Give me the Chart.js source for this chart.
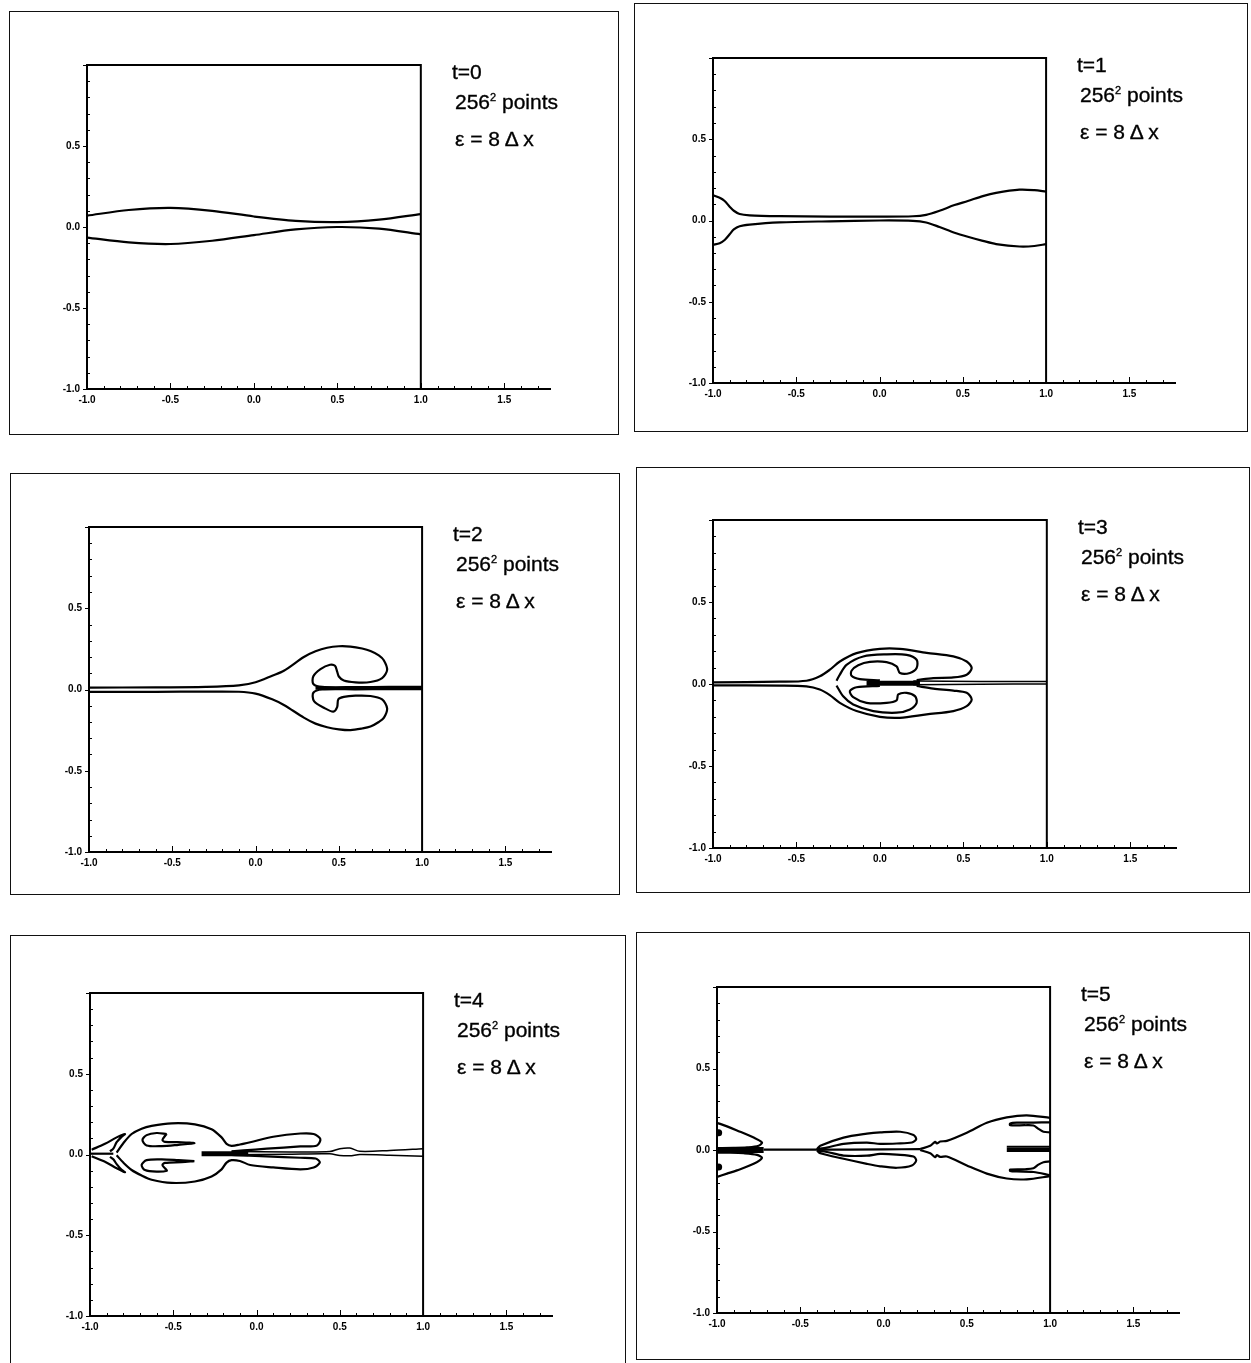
<!DOCTYPE html>
<html>
<head>
<meta charset="utf-8">
<script src="https://cdn.jsdelivr.net/npm/chart.js@4.4.1/dist/chart.umd.min.js"></script>
<style>
   body { margin: 0; background: #fff; }
   #page { position: relative; width: 1251px; height: 1363px; overflow: hidden; background: #fff; }
   .frame { position: absolute; border: 1px solid #111; box-sizing: border-box; }
   canvas { position: absolute; }
   .lbl { position: absolute; font-family: "Liberation Sans", Arial, sans-serif; font-size: 21px; color: #000; line-height: 22px; white-space: nowrap; -webkit-text-stroke: 0.35px #000; }
   .lbl sup { font-size: 11px; vertical-align: 8px; line-height: 0; }
</style>
</head>
<body>
<div id="page"></div>
<script>
/*******************************************************
 * /                 axes + tick labels                 * /
 ********************************************************/
const xTicks = [-1, -0.5, 0, 0.5, 1, 1.5];
const yTicks = [-1, -0.5, 0, 0.5];
const xMin = -1, xMax = 1.78, yMin = -1, yMax = 1;
const labelLines = ["256<sup>2</sup> points", "\u03b5 = 8 \u0394 x"];

/*******************************************************
 * /            contour lines, one array per curve      * /
 ********************************************************/
// t=0
const t0Upper = [[-1,0.07],[-0.75,0.105],[-0.5,0.118],[-0.25,0.1],[0,0.065],[0.25,0.038],[0.5,0.03],[0.75,0.045],[1,0.08]];
const t0Lower = [[-1,-0.065],[-0.75,-0.095],[-0.5,-0.105],[-0.25,-0.085],[0,-0.05],[0.25,-0.015],[0.5,0.0],[0.75,-0.01],[1,-0.045]];

// t=1
const t1Upper = [[-1,0.155],[-0.96,0.14],[-0.93,0.12],[-0.9,0.085],[-0.875,0.06],[-0.84,0.04],[-0.78,0.032],[-0.6,0.027],[-0.3,0.024],[0,0.024],[0.2,0.026],[0.28,0.035],[0.36,0.06],[0.45,0.095],[0.53,0.12],[0.62,0.15],[0.7,0.17],[0.84,0.19],[0.93,0.187],[1,0.178]];
const t1Lower = [[-1,-0.15],[-0.96,-0.14],[-0.93,-0.12],[-0.9,-0.085],[-0.875,-0.055],[-0.84,-0.035],[-0.78,-0.025],[-0.6,-0.012],[-0.3,-0.005],[0,0],[0.2,-0.002],[0.28,-0.012],[0.36,-0.04],[0.45,-0.075],[0.53,-0.1],[0.62,-0.125],[0.7,-0.145],[0.84,-0.16],[0.93,-0.157],[1,-0.145]];

// t=2
const t2Upper = [[-1,0.012],[-0.6,0.013],[-0.3,0.016],[-0.1,0.025],[0.0,0.045],[0.1,0.085],[0.17,0.115],[0.29,0.2],[0.36,0.235],[0.43,0.257],[0.5,0.266],[0.57,0.264],[0.64,0.252],[0.69,0.237],[0.74,0.21],[0.77,0.18],[0.79,0.12],[0.76,0.07],[0.69,0.046],[0.6,0.044],[0.53,0.055],[0.5,0.08],[0.49,0.11],[0.477,0.146],[0.447,0.152],[0.39,0.125],[0.347,0.081],[0.347,0.034],[0.4,0.016],[0.6,0.015],[0.8,0.016],[1.0,0.016]];
const t2Lower = [[-1,-0.014],[-0.6,-0.014],[-0.3,-0.013],[-0.1,-0.014],[0.0,-0.025],[0.1,-0.06],[0.17,-0.095],[0.29,-0.173],[0.36,-0.21],[0.43,-0.232],[0.5,-0.245],[0.57,-0.25],[0.64,-0.24],[0.69,-0.228],[0.74,-0.2],[0.77,-0.175],[0.79,-0.116],[0.76,-0.061],[0.69,-0.04],[0.6,-0.038],[0.53,-0.045],[0.497,-0.06],[0.49,-0.108],[0.467,-0.136],[0.417,-0.116],[0.351,-0.071],[0.347,-0.02],[0.4,0.0],[0.6,0.001],[0.8,0.002],[1.0,0.002]];
const t2Core = [[0.36,0.008],[0.85,0.008]];

// t=3
const t3OuterUp = [[-1,0.01],[-0.6,0.014],[-0.44,0.02],[-0.36,0.047],[-0.3,0.087],[-0.24,0.137],[-0.14,0.188],[0,0.214],[0.12,0.214],[0.28,0.19],[0.44,0.168],[0.52,0.137],[0.55,0.097],[0.52,0.057],[0.44,0.04],[0.32,0.036],[0.22,0.024]];
const t3OuterLow = [[-1,-0.008],[-0.6,-0.01],[-0.44,-0.015],[-0.36,-0.034],[-0.3,-0.068],[-0.24,-0.115],[-0.14,-0.165],[0,-0.2],[0.12,-0.206],[0.28,-0.185],[0.44,-0.165],[0.52,-0.135],[0.55,-0.094],[0.52,-0.054],[0.44,-0.04],[0.32,-0.028],[0.22,-0.012]];
const t3CUp = [[-0.26,0.02],[-0.24,0.057],[-0.2,0.117],[-0.1,0.168],[0.04,0.181],[0.16,0.178],[0.22,0.148],[0.22,0.097],[0.18,0.067],[0.12,0.067],[0.1,0.107],[0.04,0.133],[-0.06,0.135],[-0.13,0.115],[-0.17,0.081],[-0.17,0.05],[-0.12,0.03],[0.0,0.022]];
const t3CLow = [[-0.26,-0.01],[-0.22,-0.075],[-0.16,-0.125],[-0.04,-0.165],[0.1,-0.175],[0.18,-0.155],[0.22,-0.115],[0.21,-0.074],[0.16,-0.054],[0.11,-0.064],[0.1,-0.1],[0.04,-0.115],[-0.08,-0.115],[-0.16,-0.08],[-0.18,-0.044],[-0.14,-0.02],[0.0,-0.012]];
const t3Core = [[-0.08,0.004],[0.24,0.004]];
const t3RightUp = [[0.2,0.018],[0.6,0.015],[1.0,0.015]];
const t3RightLow = [[0.2,-0.004],[0.6,-0.001],[1.0,0.0]];

// t=4
const t4OvalUp = [[-0.84,0.012],[-0.8,0.07],[-0.75,0.127],[-0.69,0.16],[-0.63,0.177],[-0.51,0.193],[-0.37,0.187],[-0.27,0.157],[-0.21,0.106],[-0.18,0.066],[-0.15,0.054],[-0.1,0.062],[-0.038,0.076],[0.1,0.11],[0.263,0.13],[0.343,0.127],[0.383,0.096],[0.363,0.056],[0.263,0.05],[0.062,0.036],[-0.078,0.025],[-0.15,0.02]];
const t4OvalLow = [[-0.84,-0.005],[-0.8,-0.05],[-0.75,-0.096],[-0.69,-0.13],[-0.63,-0.156],[-0.51,-0.176],[-0.37,-0.167],[-0.27,-0.136],[-0.21,-0.092],[-0.18,-0.05],[-0.15,-0.035],[-0.1,-0.04],[-0.038,-0.065],[0.1,-0.08],[0.263,-0.092],[0.343,-0.08],[0.38,-0.05],[0.355,-0.025],[0.263,-0.02],[0.06,-0.012],[-0.08,-0.005],[-0.15,-0.003]];
const t4ChevUp = [[-0.99,0.03],[-0.91,0.066],[-0.84,0.106],[-0.79,0.127],[-0.81,0.11],[-0.84,0.076],[-0.86,0.036],[-0.88,0.02]];
const t4ChevLow = [[-0.99,-0.011],[-0.91,-0.045],[-0.84,-0.085],[-0.79,-0.11],[-0.81,-0.095],[-0.84,-0.06],[-0.86,-0.03],[-0.88,-0.015]];
const t4CUp = [[-0.539,0.127],[-0.6,0.133],[-0.66,0.12],[-0.685,0.09],[-0.66,0.056],[-0.569,0.052],[-0.469,0.06],[-0.373,0.07],[-0.45,0.076],[-0.549,0.078],[-0.565,0.09],[-0.549,0.116],[-0.539,0.127]];
const t4CLow = [[-0.373,-0.041],[-0.469,-0.035],[-0.569,-0.03],[-0.66,-0.035],[-0.69,-0.065],[-0.67,-0.096],[-0.6,-0.106],[-0.539,-0.1],[-0.55,-0.085],[-0.565,-0.065],[-0.549,-0.052],[-0.45,-0.047],[-0.373,-0.041]];
const t4Stub = [[-1,0.005],[-0.86,0.005]];
const t4Core = [[-0.33,0.005],[-0.05,0.005]];
const t4MidUp = [[-0.15,0.018],[0.2,0.016],[0.44,0.018],[0.5,0.036],[0.56,0.04],[0.62,0.02],[0.8,0.025],[1.0,0.036]];
const t4MidLow = [[-0.15,-0.002],[0.2,0.002],[0.44,0.004],[0.5,-0.006],[0.56,-0.008],[0.62,0.0],[0.8,-0.004],[1.0,-0.011]];

// t=5
const t5LeftUp = [[-1,0.167],[-0.94,0.145],[-0.88,0.12],[-0.78,0.076],[-0.73,0.046],[-0.75,0.026],[-0.82,0.016],[-0.9,0.013],[-1,0.012]];
const t5LeftLow = [[-1,-0.165],[-0.94,-0.145],[-0.88,-0.125],[-0.78,-0.085],[-0.73,-0.048],[-0.76,-0.03],[-0.84,-0.02],[-0.92,-0.017],[-1,-0.017]];
const t5Dots = [[-0.99,0.106],[-0.99,-0.105]];
const t5Core = [[-1,0.0],[-0.72,0.0]];
const t5Center = [[-0.72,0.002],[-0.4,0.002],[0.0,0.004],[0.22,0.005]];
const t5MidUp = [[-0.4,0.005],[-0.38,0.026],[-0.24,0.076],[-0.1,0.1],[-0.02,0.108],[0.1,0.112],[0.18,0.092],[0.196,0.066],[0.17,0.046],[0.08,0.04],[-0.02,0.038],[-0.1,0.045],[-0.24,0.038],[-0.34,0.015],[-0.4,0.005]];
const t5MidLow = [[-0.4,-0.003],[-0.38,-0.02],[-0.24,-0.054],[-0.1,-0.085],[-0.02,-0.1],[0.08,-0.109],[0.17,-0.095],[0.196,-0.065],[0.18,-0.04],[0.08,-0.028],[-0.02,-0.024],[-0.1,-0.035],[-0.24,-0.034],[-0.34,-0.012],[-0.4,-0.003]];
const t5RightUp = [[0.22,0.006],[0.28,0.026],[0.31,0.05],[0.32,0.04],[0.34,0.052],[0.38,0.056],[0.5,0.106],[0.62,0.167],[0.74,0.2],[0.86,0.213],[1,0.197]];
const t5RightLow = [[0.22,0.0],[0.28,-0.02],[0.31,-0.044],[0.32,-0.032],[0.34,-0.042],[0.38,-0.04],[0.5,-0.095],[0.62,-0.145],[0.74,-0.175],[0.86,-0.18],[1,-0.16]];
const t5FingerUp = [[1.0,0.17],[0.9,0.168],[0.8,0.168],[0.76,0.163],[0.76,0.152],[0.85,0.152],[0.9,0.15],[0.93,0.13],[0.96,0.112],[1.0,0.108]];
const t5FingerLow = [[1.0,-0.155],[0.9,-0.135],[0.8,-0.132],[0.76,-0.128],[0.76,-0.12],[0.85,-0.118],[0.9,-0.112],[0.93,-0.09],[0.96,-0.075],[1.0,-0.07]];
const t5FingerMid1 = [[0.74,0.02],[1.0,0.02]];
const t5FingerMid2 = [[0.74,0.007],[1.0,0.007]];
const t5FingerMid3 = [[0.74,-0.006],[1.0,-0.006]];

/*******************************************************
 * /            panel layout (page pixels)              * /
 ********************************************************/
const panels = [
   { t: "t=0", frame: [9, 11, 619, 435], plot: [87, 421, 60, 389],
     curves: [[t0Upper], [t0Lower]] },
   { t: "t=1", frame: [634, 3, 1248, 432], plot: [713, 1046, 53, 383],
     curves: [[t1Upper], [t1Lower]] },
   { t: "t=2", frame: [10, 473, 620, 895], plot: [89, 422, 522, 852],
     curves: [[t2Upper], [t2Lower], [t2Core, 3]] },
   { t: "t=3", frame: [636, 467, 1250, 893], plot: [713, 1047, 515, 848],
     curves: [[t3OuterUp], [t3OuterLow], [t3CUp], [t3CLow], [t3Core, 5], [t3RightUp, 1.5], [t3RightLow, 1.5]] },
   { t: "t=4", frame: [10, 935, 626, 1370], plot: [90, 423, 988, 1316],
     curves: [[t4OvalUp], [t4OvalLow], [t4ChevUp], [t4ChevLow], [t4CUp], [t4CLow], [t4Stub], [t4Core, 5], [t4MidUp, 1.5], [t4MidLow, 1.5]] },
   { t: "t=5", frame: [636, 932, 1250, 1360], plot: [717, 1050, 982, 1313],
     curves: [[t5LeftUp], [t5LeftLow], [t5Core, 6], [t5Center], [t5MidUp], [t5MidLow], [t5RightUp], [t5RightLow], [t5FingerUp], [t5FingerLow], [t5FingerMid1], [t5FingerMid2], [t5FingerMid3]],
     dots: t5Dots },
];

// box on top/right + inward ticks, like the old plotting package
const boxTicks = {
   id: "boxTicks",
   afterDraw(chart) {
      const { ctx } = chart;
      const x = chart.scales.x, y = chart.scales.y;
      const px = (v) => x.getPixelForValue(v);
      const py = (v) => y.getPixelForValue(v);
      ctx.save();
      ctx.strokeStyle = "#000";
      ctx.lineWidth = 2;
      ctx.beginPath();
      ctx.moveTo(px(xMax), py(yMin));
      ctx.lineTo(px(xMin), py(yMin));
      ctx.lineTo(px(xMin), py(yMax));
      ctx.lineTo(px(1), py(yMax));
      ctx.lineTo(px(1), py(yMin));
      ctx.stroke();
      ctx.lineWidth = 1;
      ctx.beginPath();
      for (let i = -10; i <= 17; i++) {
         const len = i % 5 === 0 ? 6 : 3;
         const xx = Math.round(px(i / 10)) + 0.5;
         ctx.moveTo(xx, py(yMin));
         ctx.lineTo(xx, py(yMin) - len);
      }
      for (let i = -10; i <= 10; i++) {
         const yy = Math.round(py(i / 10)) + 0.5;
         if (i % 5 === 0) {
            ctx.moveTo(px(xMin) - 4, yy);
            ctx.lineTo(px(xMin), yy);
         } else {
            ctx.moveTo(px(xMin), yy);
            ctx.lineTo(px(xMin) + 3, yy);
         }
      }
      ctx.stroke();
      ctx.restore();
   },
};

const page = document.getElementById("page");
const tickFont = { family: "'Liberation Sans', Arial, sans-serif", size: 10, weight: "bold" };

panels.forEach(function (p, n) {
   const fr = document.createElement("div");
   fr.className = "frame";
   fr.style.left = p.frame[0] + "px";
   fr.style.top = p.frame[1] + "px";
   fr.style.width = (p.frame[2] - p.frame[0]) + "px";
   fr.style.height = (p.frame[3] - p.frame[1]) + "px";
   page.appendChild(fr);

   const [L, R1, T, B] = p.plot;
   const unitX = (R1 - L) / 2;
   const rightPx = L + (xMax - xMin) * unitX;
   const padL = 4, padT = 8, padR = 10, padB = 4, yW = 30, xH = 22;

   const cv = document.createElement("canvas");
   cv.id = "panel" + n;
   cv.width = Math.round(rightPx - L + yW + padL + padR);
   cv.height = Math.round(B - T + padT + xH + padB);
   cv.style.left = (L - yW - padL) + "px";
   cv.style.top = (T - padT) + "px";
   page.appendChild(cv);

   const lines = [p.t].concat(labelLines);
   const offs = [12, 42, 79];
   lines.forEach(function (txt, k) {
      const d = document.createElement("div");
      d.className = "lbl";
      d.innerHTML = txt;
      d.style.left = (R1 + 31 + (k > 0 ? 3 : 0)) + "px";
      d.style.top = (T + offs[k] - 11) + "px";
      page.appendChild(d);
   });

   const datasets = p.curves.map(function (c) {
      return {
         data: c[0].map((q) => ({ x: q[0], y: q[1] })),
         showLine: true,
         borderColor: "#000",
         borderWidth: c[1] || 2.2,
         pointRadius: 0,
         tension: 0.3,
         fill: false,
      };
   });
   if (p.dots) {
      datasets.push({
         data: p.dots.map((q) => ({ x: q[0], y: q[1] })),
         showLine: false,
         pointRadius: 3.5,
         pointBackgroundColor: "#000",
         pointBorderWidth: 0,
      });
   }

   new Chart(cv.getContext("2d"), {
      type: "scatter",
      data: { datasets: datasets },
      plugins: [boxTicks],
      options: {
         responsive: false,
         animation: false,
         layout: { padding: { left: padL, top: padT, right: padR, bottom: padB } },
         plugins: { legend: { display: false }, tooltip: { enabled: false } },
         scales: {
            x: {
               type: "linear",
               min: xMin,
               max: xMax,
               grid: { display: false, drawTicks: false, tickLength: 0 },
               border: { display: false },
               afterBuildTicks: (s) => { s.ticks = xTicks.map((v) => ({ value: v })); },
               afterFit: (s) => { s.height = xH; },
               ticks: { color: "#000", font: tickFont, padding: 5, maxRotation: 0, autoSkip: false,
                        callback: (v) => Number(v).toFixed(1) },
            },
            y: {
               type: "linear",
               min: yMin,
               max: yMax,
               grid: { display: false, drawTicks: false, tickLength: 0 },
               border: { display: false },
               afterBuildTicks: (s) => { s.ticks = yTicks.map((v) => ({ value: v })); },
               afterFit: (s) => { s.width = yW; },
               ticks: { color: "#000", font: tickFont, padding: 7, autoSkip: false,
                        callback: (v) => Number(v).toFixed(1) },
            },
         },
      },
   });
});
</script>
</body>
</html>
